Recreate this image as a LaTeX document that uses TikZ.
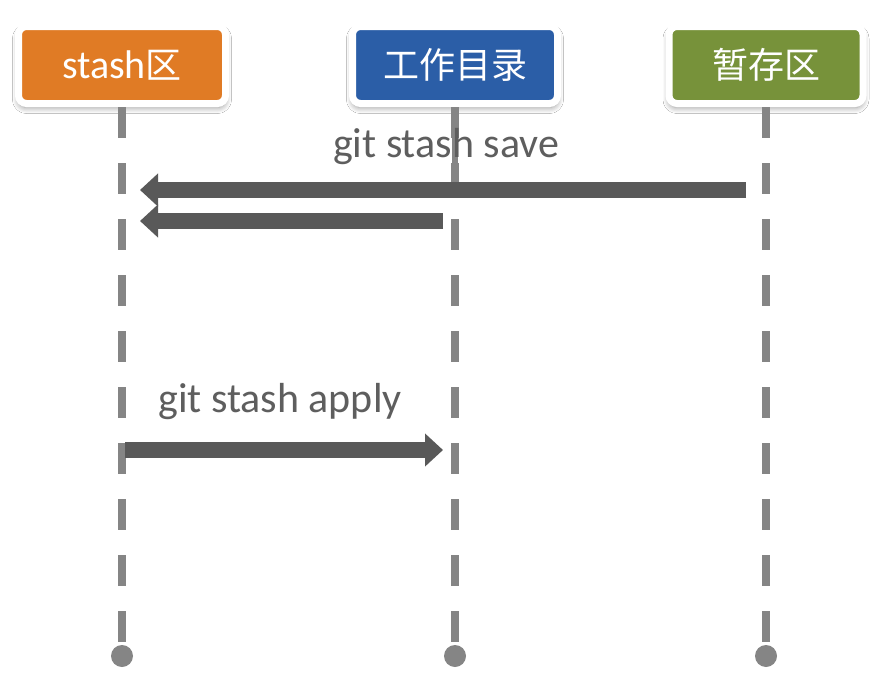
\documentclass[tikz,border=0pt]{standalone}
\usepackage{fontspec}
\setmainfont{Carlito}
\newfontfamily\cjk{Noto Sans CJK SC}
\usetikzlibrary{arrows.meta,shadows.blur}
\definecolor{orangebox}{HTML}{E07B25}
\definecolor{bluebox}{HTML}{2B5EA7}
\definecolor{greenbox}{HTML}{77923A}
\definecolor{arrowgray}{HTML}{595959}
\definecolor{linegray}{HTML}{858585}
\definecolor{textgray}{HTML}{5E5E5E}
\begin{document}
\begin{tikzpicture}[x=0.5pt,y=-0.5pt]
		\tikzstyle{zone}=[rounded corners=4pt,draw=white,line width=3.5pt,minimum width=103.5pt,minimum height=38.5pt,text=white,font=\fontsize{20}{24}\selectfont,blur shadow={shadow blur steps=6,shadow xshift=0pt,shadow yshift=-2pt,shadow opacity=45,shadow blur radius=3pt}]
		\tikzstyle{ligne}=[draw=linegray,line width=4pt,dash pattern=on 15.5pt off 12.5pt]
		\tikzstyle{point}=[circle,fill=linegray,inner sep=0pt,minimum size=11pt]
		\tikzstyle{fleche}=[draw=arrowgray,line width=8pt,-{Triangle[length=9pt,width=16pt]}]
		\tikzstyle{legende}=[anchor=base,text=textgray,font=\fontsize{21}{25}\selectfont]
		\fill[white] (0,0) rectangle (879,696);
		\useasboundingbox (0,0) rectangle (879,696);
		\node[zone,fill=orangebox] (stash) at (122,65) {stash{\cjk\fontsize{18}{22}\selectfont 区}}; % gauche
		\node[zone,fill=bluebox,minimum width=102.5pt] (travail) at (455,65) {{\cjk\fontsize{18}{22}\selectfont 工作目录}}; % milieu
		\node[zone,fill=greenbox,minimum width=97pt] (index) at (766,65) {{\cjk\fontsize{18}{22}\selectfont 暂存区}}; % droite
		\coordinate (stash_bas) at (stash |- 0,656);
		\coordinate (travail_bas) at (travail |- 0,656);
		\coordinate (index_bas) at (index |- 0,656);
		\draw[ligne] (stash.south) -- (stash_bas);
		\draw[ligne] (travail.south) -- (travail_bas);
		\draw[ligne] (index.south) -- (index_bas);
		\draw[draw=linegray,line width=3pt] (travail.south) -- (travail |- 0,190);
		\node[point] at (stash_bas) {};
		\node[point] at (travail_bas) {};
		\node[point] at (index_bas) {};
		\node[legende] (save) at (446,157) {git stash save};
		\draw[fleche,shorten <=10pt,shorten >=9pt] (index |- 0,190) -- (stash |- 0,190);
		\draw[fleche,shorten <=6pt,shorten >=9pt] (travail |- 0,221) -- (stash |- 0,221);
		\node[legende] (apply) at (280,412) {git stash apply};
		\draw[fleche,shorten <=1.5pt,shorten >=6pt] (stash |- 0,450) -- (travail |- 0,450);
	\end{tikzpicture}
\end{document}
